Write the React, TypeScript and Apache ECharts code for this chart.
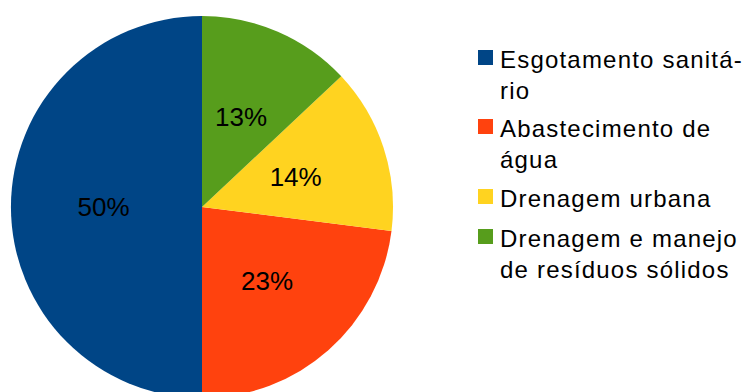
import React, { useEffect, useRef } from "react";
import * as echarts from "echarts";

const categories = [
  "Esgotamento sanitário",
  "Abastecimento de água",
  "Drenagem urbana",
  "Drenagem e manejo de resíduos sólidos",
];
const values = [50, 23, 14, 13];
const colors = ["#004586", "#ff420e", "#ffd320", "#579d1c"];
const legendLines = [
  ["Esgotamento sanitá-", "rio"],
  ["Abastecimento de", "água"],
  ["Drenagem urbana"],
  ["Drenagem e manejo", "de resíduos sólidos"],
];

const FONT = "'Liberation Sans', Arial, sans-serif";

export default function App() {
  const ref = useRef<HTMLDivElement>(null);

  useEffect(() => {
    if (!ref.current) return;
    const chart = echarts.init(ref.current, null, { renderer: "svg" });

    const legendTop = [50, 119, 189, 229];
    const lineGap = 31;
    const graphics: any[] = [];
    legendLines.forEach((lines, i) => {
      graphics.push({
        type: "rect",
        left: 478,
        top: legendTop[i],
        shape: { width: 15, height: 15 },
        style: { fill: colors[i] },
        silent: true,
      });
      lines.forEach((ln, j) => {
        graphics.push({
          type: "text",
          x: 500,
          y: legendTop[i] + 9 + j * lineGap,
          style: {
            text: ln,
            fill: "#000",
            font: `24px ${FONT}`,
            textAlign: "left",
            textVerticalAlign: "middle",
          },
          silent: true,
        });
      });
    });

    chart.setOption({
      animation: false,
      backgroundColor: "#ffffff",
      graphic: graphics,
      series: [
        {
          type: "pie",
          center: [202, 207],
          radius: [0, 191],
          startAngle: 90,
          clockwise: false,
          silent: true,
          emphasis: { disabled: true },
          itemStyle: { borderWidth: 0 },
          label: {
            show: true,
            position: "inside",
            formatter: "{d}%",
            color: "#000",
            fontSize: 26,
            fontFamily: FONT,
          },
          labelLine: { show: false },
          data: categories.map((name, i) => ({
            name,
            value: values[i],
            itemStyle: { color: colors[i] },
          })),
        },
      ],
    });
    return () => chart.dispose();
  }, []);

  return (
    <>
      <style>{`#chart text[style*="24px"]{letter-spacing:1.2px;}`}</style>
      <div
        id="chart"
        ref={ref}
        style={{ position: "fixed", left: 0, top: 0, width: 751, height: 392 }}
      />
    </>
  );
}
